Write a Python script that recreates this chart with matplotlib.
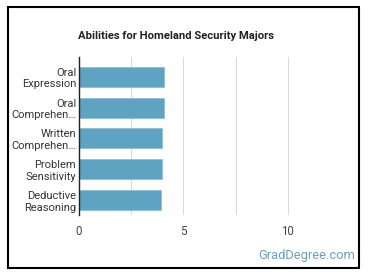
import matplotlib.pyplot as plt
from matplotlib.patches import Rectangle

plt.rcParams['font.family'] = ['Roboto', 'DejaVu Sans']

# Data
abilities = [
    "Oral\nExpression",
    "Oral\nComprehen\u2026",
    "Written\nComprehen\u2026",
    "Problem\nSensitivity",
    "Deductive\nReasoning",
]
scores = [4.08, 4.08, 3.99, 3.99, 3.94]
xticks = [0, 5, 10]

W, H = 370, 278
fig = plt.figure(figsize=(W / 100, H / 100), dpi=100)
ax = fig.add_axes([79 / W, 1 - 215 / H, (340 - 79) / W, (215 - 57) / H])

ypos = list(range(len(abilities)))
ax.barh(ypos, scores, height=0.65, color="#5ea3c1", edgecolor="#8cc0d6", linewidth=0.6, zorder=3)

ax.set_xlim(0, 12.5)
ax.set_ylim(4.48, -0.64)
ax.set_xticks(xticks)
ax.set_xticks([2.5, 7.5], minor=True)
ax.grid(axis="x", which="both", color="#d9d9d9", linewidth=0.8, zorder=0)
ax.set_yticks(ypos)
ax.set_yticklabels(abilities, fontsize=8, color="#333333", linespacing=1.2)
ax.tick_params(axis="y", length=0, pad=2)
ax.tick_params(axis="x", which="both", length=0, pad=7, labelsize=8.3, labelcolor="#444444")

for s in ["top", "right", "bottom"]:
    ax.spines[s].set_visible(False)
ax.spines["left"].set_color("#222222")
ax.spines["left"].set_linewidth(1.0)
ax.spines["left"].set_zorder(4)

fig.text(176 / W, 1 - 36 / H, "Abilities for Homeland Security Majors",
         ha="center", va="center", fontsize=8.1, fontweight="bold", color="#222222")
fig.text(355 / W, 1 - 255 / H, "GradDegree.com", ha="right", va="center",
         fontsize=9.3, color="#6a9fc0")

fig.patches.append(Rectangle((8 / W, 1 - 268 / H), (359 - 8) / W, (268 - 7) / H,
                             transform=fig.transFigure, fill=False,
                             edgecolor="black", linewidth=1.5))

fig.savefig("out.png", dpi=100)
